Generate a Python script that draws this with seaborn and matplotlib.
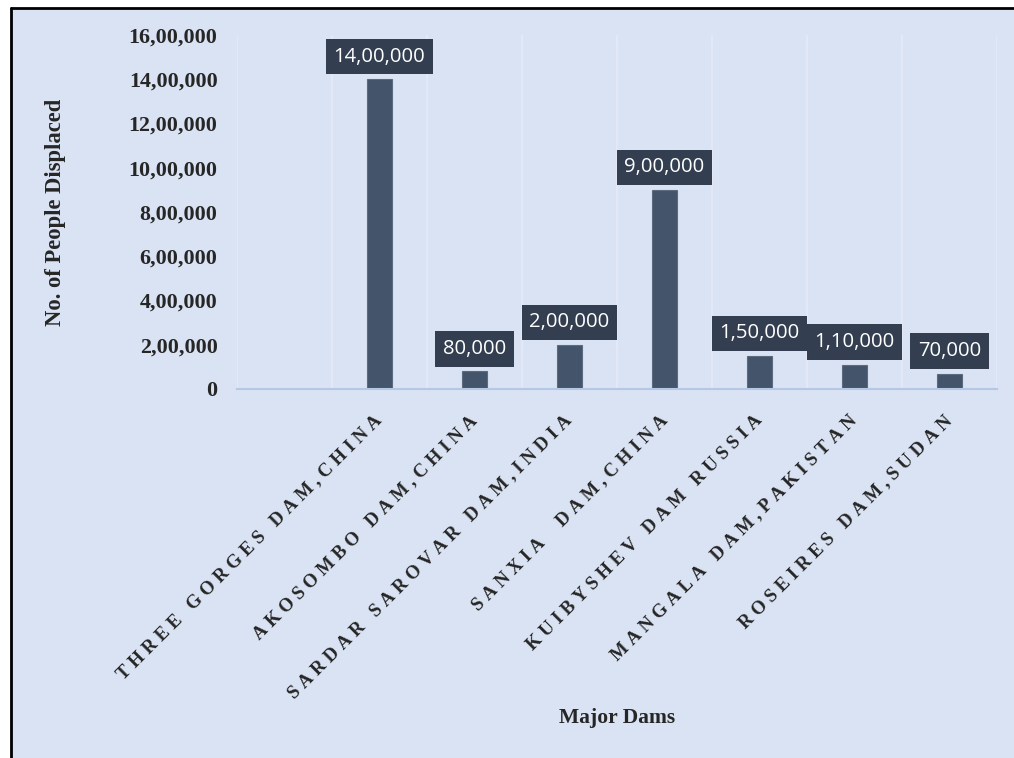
import numpy as np
import pandas as pd
import matplotlib
matplotlib.use("Agg")
import matplotlib.pyplot as plt
from matplotlib.patches import Rectangle
from matplotlib.lines import Line2D
from matplotlib.path import Path
from matplotlib.ticker import FuncFormatter, MultipleLocator, FixedLocator
import seaborn as sns

# Major dams and the number of people each displaced
dams = [
    "THREE GORGES DAM,CHINA",
    "AKOSOMBO DAM,CHINA",
    "SARDAR SAROVAR DAM,INDIA",
    "SANXIA  DAM,CHINA",
    "KUIBYSHEV DAM RUSSIA",
    "MANGALA DAM,PAKISTAN",
    "ROSEIRES DAM,SUDAN",
]
displaced = [1400000, 80000, 200000, 900000, 150000, 110000, 70000]

# a blank leading category leaves an empty slot before the first dam
order = [""] + dams

BG = "#DAE3F3"
BAR = "#44546A"
LABEL_BOX = "#333F50"
SERIF = ["Liberation Serif", "DejaVu Serif"]
SANS = ["Open Sans", "DejaVu Sans"]


def indian(n):
    """Format an integer with Indian digit grouping (e.g. 14,00,000)."""
    s = str(int(round(n)))
    if len(s) <= 3:
        return s
    head, tail = s[:-3], s[-3:]
    groups = []
    while len(head) > 2:
        groups.insert(0, head[-2:])
        head = head[:-2]
    if head:
        groups.insert(0, head)
    return ",".join(groups + [tail])


def spaced(text):
    """Expanded character spacing for the category labels."""
    return "\u2005".join(text)


def label_box(x0, y0, width, height, mutation_size):
    """Square box with equal padding around the value label."""
    p = 0.38 * mutation_size
    x0, y0 = x0 - p, y0 - p
    x1, y1 = x0 + width + 2 * p, y0 + height + 2 * p
    return Path([(x0, y0), (x1, y0), (x1, y1), (x0, y1), (x0, y0)],
                closed=True)


df = pd.DataFrame({"dam": dams, "displaced": displaced})

sns.set_theme(style="white")
plt.rcParams["font.family"] = SERIF

fig = plt.figure(figsize=(10.14, 7.58), dpi=100, facecolor="white")
# light-blue chart area with a frame on its top and left edges
left_edge, top_edge = 11 / 1014, 1 - 7.5 / 758
fig.add_artist(Rectangle((left_edge, 0), 1 - left_edge, top_edge,
                         transform=fig.transFigure, facecolor=BG,
                         edgecolor="none", zorder=-10))
fig.add_artist(Line2D([left_edge, left_edge], [0, top_edge],
                      transform=fig.transFigure, color="black", lw=2))
fig.add_artist(Line2D([left_edge, 1], [top_edge, top_edge],
                      transform=fig.transFigure, color="black", lw=2))

ax = fig.add_axes([237 / 1014, 1 - 389 / 758, 760 / 1014, 354 / 758])
ax.set_facecolor("none")

sns.barplot(data=df, x="dam", y="displaced", order=order, color=BAR,
            saturation=1, width=0.27, edgecolor="#5D6B80", linewidth=0.8,
            ax=ax, zorder=3)

ax.set_ylim(0, 1600000)
ax.yaxis.set_major_locator(MultipleLocator(200000))
ax.yaxis.set_major_formatter(FuncFormatter(lambda v, p: indian(v)))

ax.set_xlim(-0.5, len(order) - 0.5)
ax.set_xticks(range(len(order)))
ax.set_xticklabels([spaced(o) for o in order], rotation=45, ha="right",
                   va="center", rotation_mode="anchor",
                   fontfamily=SERIF, fontweight="bold", fontsize=13.5)
ax.xaxis.set_minor_locator(FixedLocator(np.arange(-0.5, len(order), 1.0)))
ax.grid(which="minor", axis="x", color="#E4EAF6", linewidth=1.2, zorder=0)
ax.grid(which="major", visible=False)

ax.tick_params(axis="x", which="both", length=0, pad=21)
ax.tick_params(axis="y", length=0, pad=14, labelsize=15.8)
for lbl in ax.get_yticklabels():
    lbl.set_fontweight("bold")
    lbl.set_fontfamily(SERIF)

for side in ["top", "right", "left"]:
    ax.spines[side].set_visible(False)
ax.spines["bottom"].set_color("#B4C7E7")
ax.spines["bottom"].set_linewidth(1.5)
ax.spines["bottom"].set_zorder(4)

ax.set_xlabel("Major Dams", fontfamily=SERIF, fontweight="bold",
              fontsize=15.5, va="center")
ax.xaxis.set_label_coords(0.5, (389 - 718) / 354)
ax.set_ylabel("No. of People Displaced", fontfamily=SERIF,
              fontweight="bold", fontsize=16.3, va="center")
ax.yaxis.set_label_coords((56 - 237) / 760, 0.5)

# value labels in dark boxes above each bar
ax.bar_label(ax.containers[0], labels=[indian(v) for v in displaced],
             padding=9, color="white", fontsize=14.6, fontfamily=SANS,
             bbox=dict(boxstyle=label_box, facecolor=LABEL_BOX,
                       edgecolor="none"), zorder=5)

fig.savefig("out.png", dpi=100, facecolor=fig.get_facecolor())
